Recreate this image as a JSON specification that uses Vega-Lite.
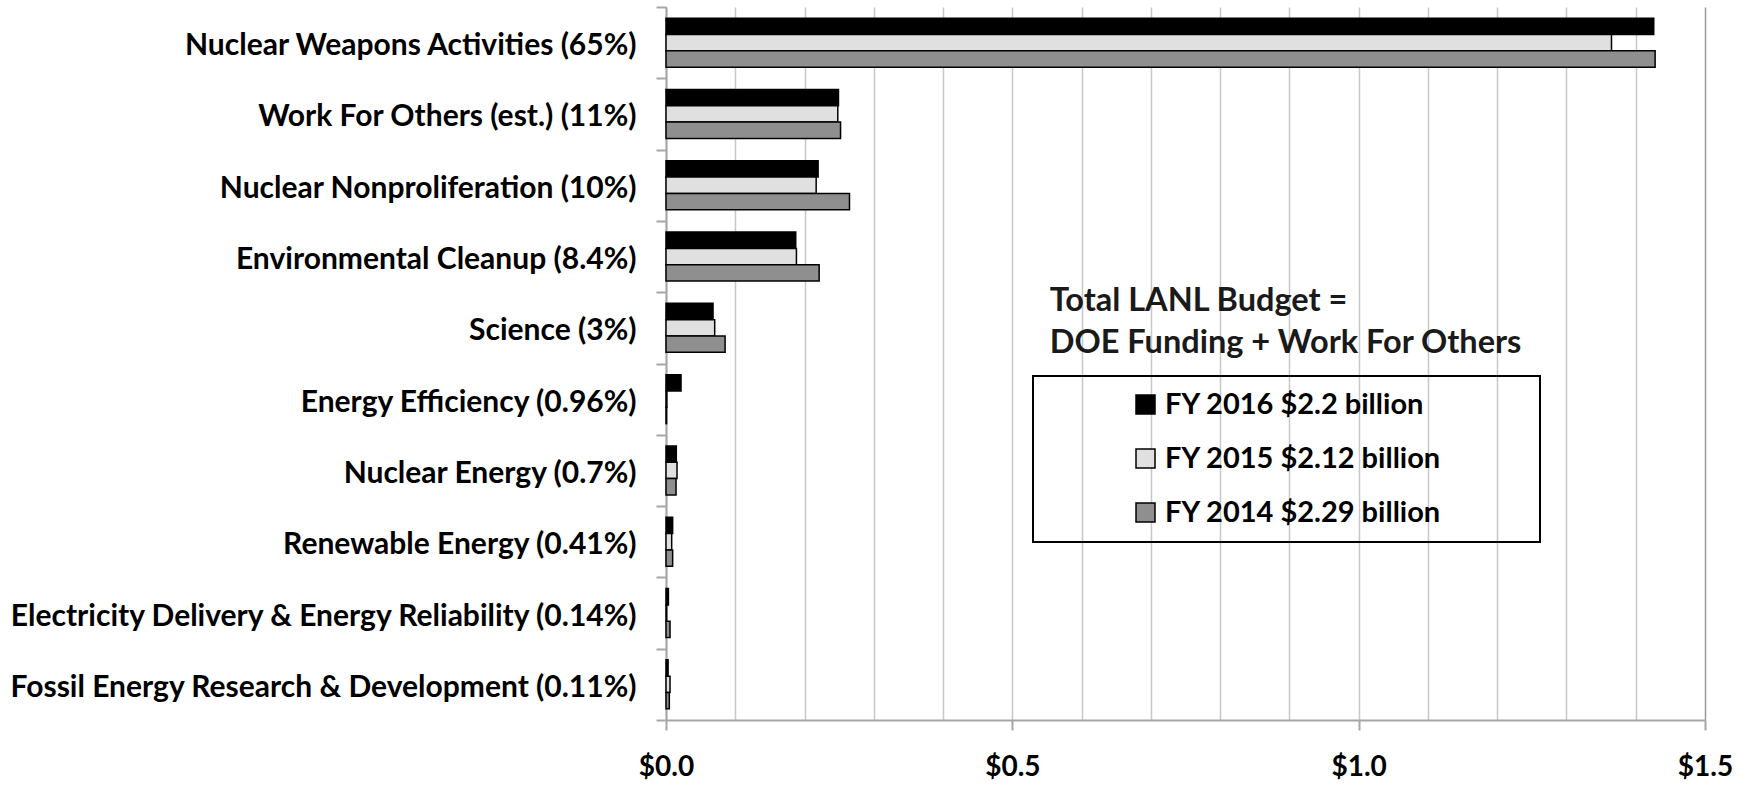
{
  "$schema": "https://vega.github.io/schema/vega-lite/v6.json",
  "width": 1039,
  "height": 713,
  "autosize": {"type": "none"},
  "padding": {"left": 666, "top": 7, "right": 37, "bottom": 66},
  "background": "white",
  "config": {
    "view": {"stroke": null},
    "font": "Lato",
    "legend": {"strokeWidth": 2}
  },
  "datasets": {
    "budget": [
      {"category": "Nuclear Weapons Activities (65%)", "series": "FY 2016 $2.2 billion", "value": 1.426},
      {"category": "Nuclear Weapons Activities (65%)", "series": "FY 2015 $2.12 billion", "value": 1.365},
      {"category": "Nuclear Weapons Activities (65%)", "series": "FY 2014 $2.29 billion", "value": 1.428},
      {"category": "Work For Others (est.) (11%)", "series": "FY 2016 $2.2 billion", "value": 0.249},
      {"category": "Work For Others (est.) (11%)", "series": "FY 2015 $2.12 billion", "value": 0.248},
      {"category": "Work For Others (est.) (11%)", "series": "FY 2014 $2.29 billion", "value": 0.252},
      {"category": "Nuclear Nonproliferation (10%)", "series": "FY 2016 $2.2 billion", "value": 0.2196},
      {"category": "Nuclear Nonproliferation (10%)", "series": "FY 2015 $2.12 billion", "value": 0.2168},
      {"category": "Nuclear Nonproliferation (10%)", "series": "FY 2014 $2.29 billion", "value": 0.2649},
      {"category": "Environmental Cleanup (8.4%)", "series": "FY 2016 $2.2 billion", "value": 0.1873},
      {"category": "Environmental Cleanup (8.4%)", "series": "FY 2015 $2.12 billion", "value": 0.1883},
      {"category": "Environmental Cleanup (8.4%)", "series": "FY 2014 $2.29 billion", "value": 0.2211},
      {"category": "Science (3%)", "series": "FY 2016 $2.2 billion", "value": 0.0679},
      {"category": "Science (3%)", "series": "FY 2015 $2.12 billion", "value": 0.0703},
      {"category": "Science (3%)", "series": "FY 2014 $2.29 billion", "value": 0.0853},
      {"category": "Energy Efficiency (0.96%)", "series": "FY 2016 $2.2 billion", "value": 0.0217},
      {"category": "Energy Efficiency (0.96%)", "series": "FY 2015 $2.12 billion", "value": 0.0012},
      {"category": "Energy Efficiency (0.96%)", "series": "FY 2014 $2.29 billion", "value": 0.0008},
      {"category": "Nuclear Energy (0.7%)", "series": "FY 2016 $2.2 billion", "value": 0.0149},
      {"category": "Nuclear Energy (0.7%)", "series": "FY 2015 $2.12 billion", "value": 0.0159},
      {"category": "Nuclear Energy (0.7%)", "series": "FY 2014 $2.29 billion", "value": 0.0145},
      {"category": "Renewable Energy (0.41%)", "series": "FY 2016 $2.2 billion", "value": 0.0096},
      {"category": "Renewable Energy (0.41%)", "series": "FY 2015 $2.12 billion", "value": 0.0082},
      {"category": "Renewable Energy (0.41%)", "series": "FY 2014 $2.29 billion", "value": 0.0096},
      {"category": "Electricity Delivery & Energy Reliability (0.14%)", "series": "FY 2016 $2.2 billion", "value": 0.0035},
      {"category": "Electricity Delivery & Energy Reliability (0.14%)", "series": "FY 2015 $2.12 billion", "value": 0.001},
      {"category": "Electricity Delivery & Energy Reliability (0.14%)", "series": "FY 2014 $2.29 billion", "value": 0.0058},
      {"category": "Fossil Energy Research & Development (0.11%)", "series": "FY 2016 $2.2 billion", "value": 0.003},
      {"category": "Fossil Energy Research & Development (0.11%)", "series": "FY 2015 $2.12 billion", "value": 0.0058},
      {"category": "Fossil Energy Research & Development (0.11%)", "series": "FY 2014 $2.29 billion", "value": 0.0048}
    ],
    "note": [
      {"text": ["Total LANL Budget =", "DOE Funding + Work For Others"], "x": 0.554, "category": "Science (3%)"}
    ]
  },
  "layer": [
    {
      "data": {"name": "budget"},
      "mark": {"type": "bar", "stroke": "black", "strokeWidth": 1.5},
      "encoding": {
        "y": {
          "field": "category",
          "type": "nominal",
          "scale": {
            "domain": ["Nuclear Weapons Activities (65%)", "Work For Others (est.) (11%)", "Nuclear Nonproliferation (10%)", "Environmental Cleanup (8.4%)", "Science (3%)", "Energy Efficiency (0.96%)", "Nuclear Energy (0.7%)", "Renewable Energy (0.41%)", "Electricity Delivery & Energy Reliability (0.14%)", "Fossil Energy Research & Development (0.11%)"],
            "paddingInner": 0,
            "paddingOuter": 0
          },
          "axis": {
            "title": null,
            "tickBand": "extent",
            "tickSize": 10,
            "tickWidth": 2,
            "tickColor": "#a6a6a6",
            "domainColor": "#a6a6a6",
            "domainWidth": 2,
            "labelFont": "Lato",
            "labelFontSize": 30,
            "labelFontWeight": "bold",
            "labelColor": "black",
            "labelLimit": 900,
            "labelPadding": 20,
            "labelOffset": 3
          }
        },
        "yOffset": {
          "field": "series",
          "type": "nominal",
          "sort": ["FY 2016 $2.2 billion", "FY 2015 $2.12 billion", "FY 2014 $2.29 billion"],
          "scale": {"paddingInner": 0, "paddingOuter": 0.683}
        },
        "x": {
          "field": "value",
          "type": "quantitative",
          "scale": {"domain": [0, 1.5], "nice": false, "zero": true},
          "axis": {
            "title": null,
            "values": [0, 0.1, 0.2, 0.3, 0.4, 0.5, 0.6, 0.7, 0.8, 0.9, 1.0, 1.1, 1.2, 1.3, 1.4, 1.5],
            "grid": true,
            "gridColor": {"condition": {"test": "datum.value >= 1.49", "value": "#9a9a9a"}, "value": "#c8c8c8"},
            "gridWidth": 1.5,
            "domainColor": "#a6a6a6",
            "domainWidth": 2,
            "tickColor": "#a6a6a6",
            "tickWidth": 2,
            "tickSize": 10,
            "tickOpacity": {"condition": {"test": "abs(datum.value * 2 - round(datum.value * 2)) < 0.000001", "value": 1}, "value": 0},
            "labelExpr": "abs(datum.value * 2 - round(datum.value * 2)) < 0.000001 ? format(datum.value, '$.1f') : ''",
            "labelFlush": false,
            "labelOverlap": false,
            "labelFont": "Lato",
            "labelFontSize": 28,
            "labelFontWeight": "bold",
            "labelColor": "black",
            "labelPadding": 23
          }
        },
        "color": {
          "field": "series",
          "type": "nominal",
          "scale": {
            "domain": ["FY 2016 $2.2 billion", "FY 2015 $2.12 billion", "FY 2014 $2.29 billion"],
            "range": ["#000000", "#e0e0e0", "#8f8f8f"]
          },
          "legend": {
            "title": null,
            "orient": "none",
            "legendX": 367,
            "legendY": 369,
            "strokeColor": "black",
            "padding": 14,
            "symbolType": "square",
            "symbolSize": 361,
            "symbolStrokeColor": "black",
            "symbolStrokeWidth": 1.5,
            "symbolOpacity": 1,
            "symbolOffset": 84,
            "labelOffset": 5,
            "labelFont": "Lato",
            "labelFontSize": 29,
            "labelFontWeight": "bold",
            "labelColor": "black",
            "labelLimit": 900,
            "rowPadding": 24,
            "labelExpr": "datum.label + '\u2800\u2800\u2800\u2800'"
          }
        }
      }
    },
    {
      "data": {"name": "note"},
      "mark": {"type": "text", "align": "left", "baseline": "alphabetic", "dy": -17, "lineHeight": 42, "font": "Lato", "fontSize": 32.5, "fontWeight": "bold", "color": "#1a1a1a"},
      "encoding": {
        "x": {"field": "x", "type": "quantitative"},
        "y": {"field": "category", "type": "nominal"},
        "text": {"field": "text"}
      }
    }
  ]
}
